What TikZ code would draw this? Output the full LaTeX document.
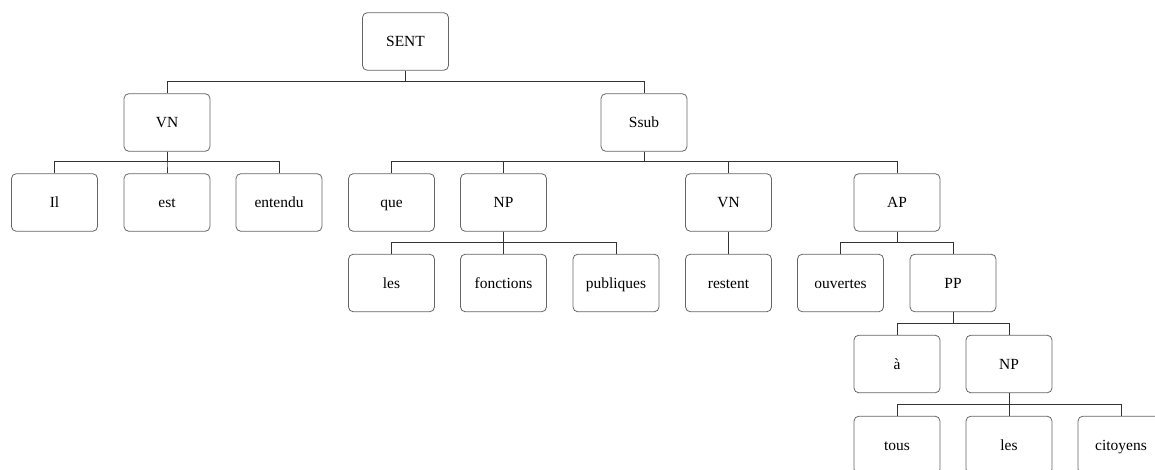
\documentclass[tikz,border=0pt]{standalone}
\usepackage{fontspec}
\setmainfont{Liberation Serif}
\begin{document}
\begin{tikzpicture}[x=0.75pt,y=-0.75pt,
  tbox/.style={draw=black!60,line width=0.6pt,rounded corners=3.6pt,minimum width=64.5pt,minimum height=43.2pt,inner sep=0pt,text height=7.7pt,text depth=0pt,font=\fontsize{11.6}{14}\selectfont,text=black},
  link/.style={draw=black!80,line width=0.6pt}]
\useasboundingbox (0,0) rectangle (1155,470);
\clip (0,0) rectangle (1155,470);
% row centres: 41.5, 122.5, 202.5, 283, 364, 445
\node[tbox] (sent) at (405.5,41.5) {SENT};
\node[tbox] (vn1) at (167,122.5) {VN};
\node[tbox] (ssub) at (644,122.5) {Ssub};
\node[tbox] (il) at (54.5,202.5) {Il};
\node[tbox] (est) at (167,202.5) {est};
\node[tbox] (entendu) at (279,202.5) {entendu};
\node[tbox] (que) at (391.5,202.5) {que};
\node[tbox] (np1) at (503.5,202.5) {NP};
\node[tbox] (vn2) at (728.5,202.5) {VN};
\node[tbox] (ap) at (897,202.5) {AP};
\node[tbox] (les1) at (391.5,283) {les};
\node[tbox] (fonctions) at (503.5,283) {fonctions};
\node[tbox] (publiques) at (616,283) {publiques};
\node[tbox] (restent) at (728.5,283) {restent};
\node[tbox] (ouvertes) at (840.5,283) {ouvertes};
\node[tbox] (pp) at (953,283) {PP};
\node[tbox] (a) at (897,364) {à};
\node[tbox] (np2) at (1009,364) {NP};
\node[tbox] (tous) at (897,445) {tous};
\node[tbox] (les2) at (1009,445) {les};
\node[tbox] (citoyens) at (1121,445) {citoyens};
\foreach \p/\c in {sent/vn1,sent/ssub,vn1/il,vn1/est,vn1/entendu,ssub/que,ssub/np1,ssub/vn2,ssub/ap,np1/les1,np1/fonctions,np1/publiques,vn2/restent,ap/ouvertes,ap/pp,pp/a,pp/np2,np2/tous,np2/les2,np2/citoyens}
  \draw[link] (\p.south) |- ([yshift=8.6pt]\c.north) -- (\c.north);
\end{tikzpicture}
\end{document}
